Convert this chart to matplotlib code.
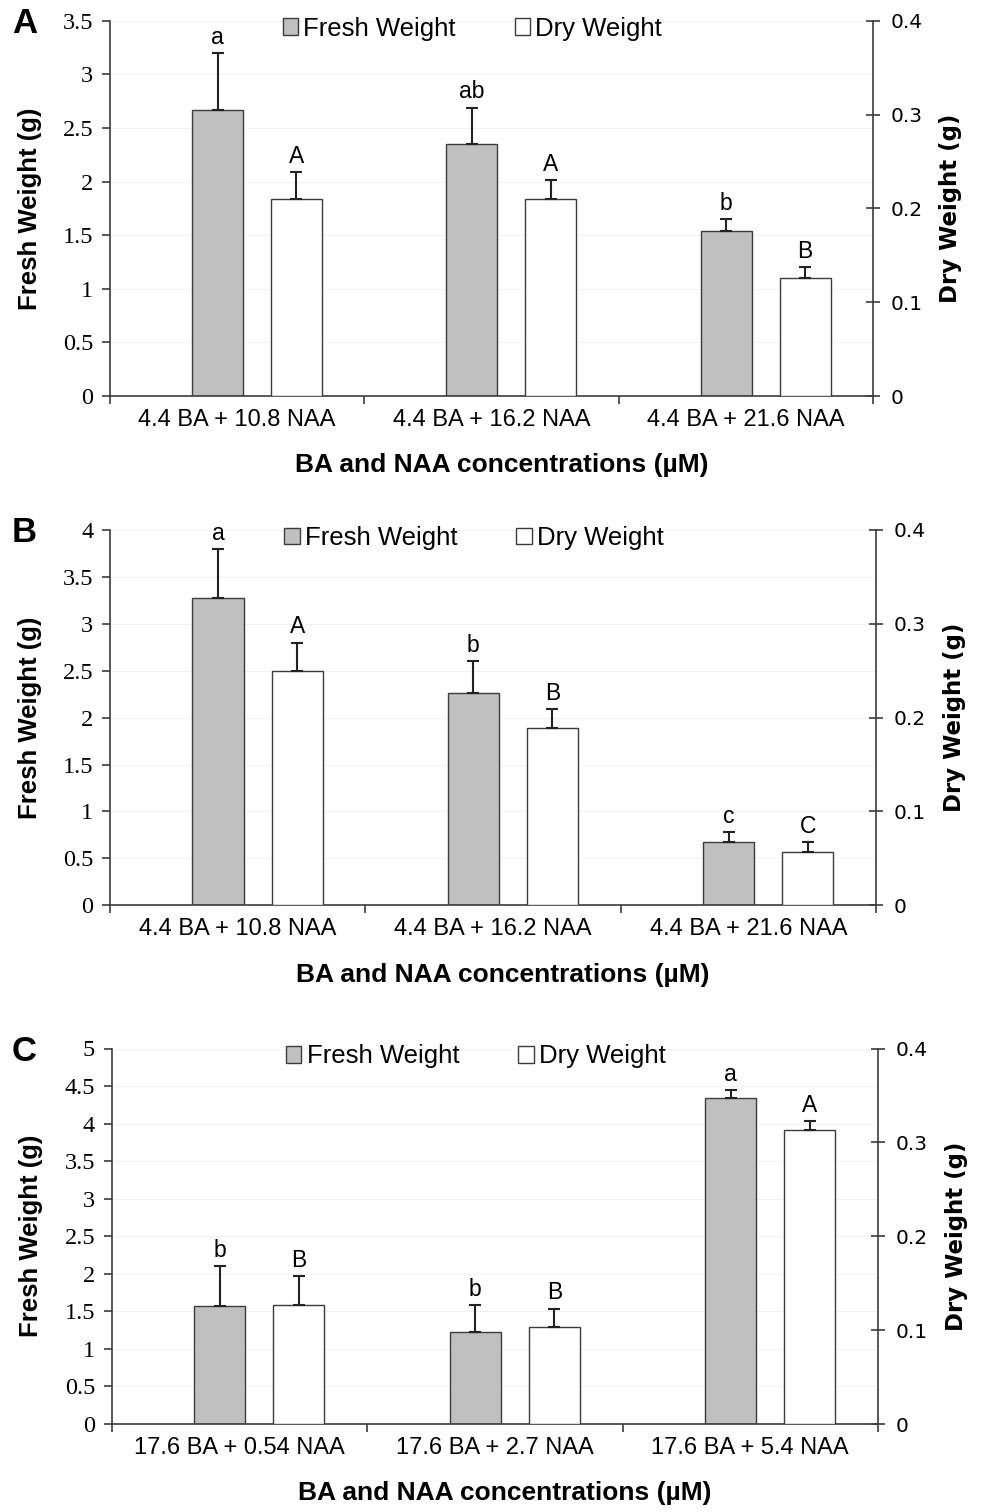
import numpy as np
import matplotlib
matplotlib.use('Agg')
from matplotlib import pyplot as plt
from matplotlib.patches import Patch

# categories
cats_ab = ['4.4 BA + 10.8 NAA', '4.4 BA + 16.2 NAA', '4.4 BA + 21.6 NAA']
cats_c = ['17.6 BA + 0.54 NAA', '17.6 BA + 2.7 NAA', '17.6 BA + 5.4 NAA']

# panel A
fresh_a = [2.67, 2.35, 1.54]
fresh_err_a = [0.53, 0.34, 0.11]
dry_a = [0.210, 0.210, 0.126]
dry_err_a = [0.029, 0.020, 0.011]
fresh_let_a = ['a', 'ab', 'b']
dry_let_a = ['A', 'A', 'B']

# panel B
fresh_b = [3.27, 2.26, 0.67]
fresh_err_b = [0.53, 0.34, 0.11]
dry_b = [0.250, 0.189, 0.057]
dry_err_b = [0.030, 0.020, 0.010]
fresh_let_b = ['a', 'b', 'c']
dry_let_b = ['A', 'B', 'C']

# panel C
fresh_c = [1.57, 1.23, 4.34]
fresh_err_c = [0.535, 0.355, 0.11]
dry_c = [0.127, 0.103, 0.313]
dry_err_c = [0.031, 0.020, 0.010]
fresh_let_c = ['b', 'b', 'a']
dry_let_c = ['B', 'B', 'A']

panels = [
    ('A', cats_ab, fresh_a, fresh_err_a, dry_a, dry_err_a, fresh_let_a, dry_let_a, 3.5),
    ('B', cats_ab, fresh_b, fresh_err_b, dry_b, dry_err_b, fresh_let_b, dry_let_b, 4.0),
    ('C', cats_c, fresh_c, fresh_err_c, dry_c, dry_err_c, fresh_let_c, dry_let_c, 5.0),
]

# axes boxes in figure pixels (left, top, right, bottom)
boxes = [(110, 20.7, 873, 396), (110, 530, 876, 905.3), (111.7, 1048.5, 878, 1424)]

W, H = 983, 1512
sans = 'Liberation Sans'
serif = 'Liberation Serif'
edge = '#3c3c3c'
gray = '#c0c0c0'

fig = plt.figure(figsize=(W / 100, H / 100), dpi=100)

for (letter, cats, fresh, ferr, dry, derr, flet, dlet, fmax), (l, t, r, b) in zip(panels, boxes):
    ax = fig.add_axes([l / W, 1 - b / H, (r - l) / W, (b - t) / H])
    ax2 = ax.twinx()
    x = np.arange(len(cats))
    width = 0.2
    xf = x - 0.077
    xd = x + 0.233

    ax.bar(xf, fresh, width, color=gray, edgecolor=edge, linewidth=1.0, zorder=2)
    ax.errorbar(xf, fresh, yerr=[np.zeros(3), ferr], fmt='none', ecolor='#222222',
                elinewidth=1.5, capsize=4.2, capthick=1.5, zorder=3)
    ax2.bar(xd, dry, width, color='white', edgecolor=edge, linewidth=1.0, zorder=2)
    ax2.errorbar(xd, dry, yerr=[np.zeros(3), derr], fmt='none', ecolor='#222222',
                 elinewidth=1.5, capsize=4.2, capthick=1.5, zorder=3)

    for xi, v, e, s in zip(xf, fresh, ferr, flet):
        ax.annotate(s, (xi, v + e), xytext=(0, 3), textcoords='offset points',
                    ha='center', va='bottom', fontsize=16.5, family=sans)
    for xi, v, e, s in zip(xd, dry, derr, dlet):
        ax2.annotate(s, (xi, v + e), xytext=(0, 3), textcoords='offset points',
                     ha='center', va='bottom', fontsize=16.5, family=sans)

    ax.set_xlim(-0.5, 2.5)
    ax.set_ylim(0, fmax)
    ax2.set_ylim(0, 0.4)
    ax.set_yticks(np.arange(0, fmax + 0.01, 0.5))
    ax.set_yticklabels(['%g' % v for v in np.arange(0, fmax + 0.01, 0.5)],
                       family=serif, fontsize=17.5)
    ax2.set_yticks([0, 0.1, 0.2, 0.3, 0.4])
    ax2.set_yticklabels(['0', '0.1', '0.2', '0.3', '0.4'], family='DejaVu Sans', fontsize=14.5)

    ax.set_xticks([-0.5, 0.5, 1.5, 2.5])
    ax.set_xticklabels([])
    ax.set_xticks(x, minor=True)
    ax.set_xticklabels(cats, minor=True, family=sans, fontsize=17)
    ax.tick_params(axis='x', which='major', direction='out', length=6, width=1.2, color=edge)
    ax.tick_params(axis='x', which='minor', length=0, pad=9)
    ax.tick_params(axis='y', direction='out', length=6, width=1.2, color=edge, pad=6)
    ax2.tick_params(axis='y', direction='inout', length=10, width=1.2, color=edge, pad=8)

    for sp in ['top', 'right']:
        ax.spines[sp].set_visible(False)
    for sp in ['top', 'left', 'bottom']:
        ax2.spines[sp].set_visible(False)
    ax.spines['left'].set_color(edge)
    ax.spines['bottom'].set_color(edge)
    ax.spines['left'].set_linewidth(1.2)
    ax.spines['bottom'].set_linewidth(1.2)
    ax2.spines['right'].set_color(edge)
    ax2.spines['right'].set_linewidth(1.2)

    ax.grid(axis='y', color='#f2f2f2', linewidth=0.8)
    ax.set_axisbelow(True)

    ax.set_ylabel('Fresh Weight (g)', family=sans, fontweight='bold', fontsize=18.5)
    ax.yaxis.set_label_coords(-0.089, 0.5)
    ax2.set_ylabel('Dry Weight (g)', family='DejaVu Sans', fontweight='bold', fontsize=16.5)
    ax2.yaxis.set_label_coords(1.087, 0.5)
    ax.set_xlabel('BA and NAA concentrations (µM)', family=sans, fontweight='bold', fontsize=19)
    ax.xaxis.set_label_coords(0.513, -0.153)

    handles = [Patch(facecolor=gray, edgecolor=edge, linewidth=1.0, label='Fresh Weight'),
               Patch(facecolor='white', edgecolor=edge, linewidth=1.0, label='Dry Weight')]
    ax2.legend(handles=handles, loc='upper center', bbox_to_anchor=(0.475, 1.045), ncol=2,
               frameon=False, prop={'family': sans, 'size': 18.5}, handlelength=0.6,
               handleheight=0.6, handletextpad=0.2, columnspacing=2.3, borderpad=0)

    fig.text(12 / W, 1 - (t + 3) / H, letter, family=sans, fontweight='bold', fontsize=25,
             ha='left', va='center')

fig.savefig('out.png', dpi=100)
